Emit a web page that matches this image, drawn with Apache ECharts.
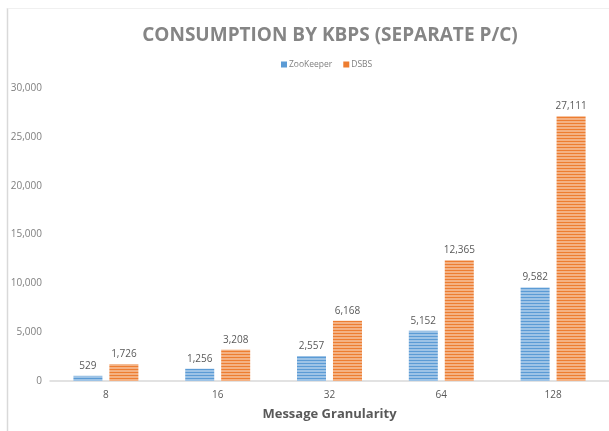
<!DOCTYPE html>
<html>
<head>
<meta charset="utf-8">
<script src="https://cdn.jsdelivr.net/npm/echarts@6/dist/echarts.min.js"></script>
<style>html,body{margin:0;padding:0;background:#fff}#c{width:609px;height:431px}</style>
</head>
<body>
<div id="c"></div>
<script>
const categories = ['8', '16', '32', '64', '128'];
const zooKeeper = [529, 1256, 2557, 5152, 9582];
const dsbs = [1726, 3208, 6168, 12365, 27111];
const seriesNames = ['ZooKeeper', 'DSBS'];
const yTicks = [0, 5000, 10000, 15000, 20000, 25000, 30000];

function stripes(dark, light) {
  const c = document.createElement('canvas');
  c.width = 4; c.height = 3;
  const g = c.getContext('2d');
  g.fillStyle = light; g.fillRect(0, 0, 4, 3);
  g.fillStyle = dark; g.fillRect(0, 0, 4, 1);
  return c;
}
const bluePat = stripes('#5B9BD5', '#9DC3E6');
const orangePat = stripes('#ED7D31', '#F4B183');

const chart = echarts.init(document.getElementById('c'), null, {renderer: 'canvas'});
const fmt = v => v.toLocaleString('en-US');
chart.setOption({
  animation: false,
  backgroundColor: '#fff',
  title: {
    text: 'CONSUMPTION BY KBPS (SEPARATE P/C)',
    left: 325, top: 21, textAlign: 'center',
    textStyle: {fontFamily: 'Open Sans', fontWeight: 'bold', fontSize: 19, color: '#858585'}
  },
  legend: {
    top: 55, left: 276,
    itemWidth: 6, itemHeight: 6, itemGap: 11,
    textStyle: {fontFamily: 'Open Sans', fontSize: 8.5, color: '#7f7f7f', padding: [0, 0, 0, -3]},
    data: [
      {name: seriesNames[0], icon: 'rect', itemStyle: {color: '#5B9BD5'}},
      {name: seriesNames[1], icon: 'rect', itemStyle: {color: '#ED7D31'}}
    ]
  },
  graphic: [
    {type: 'line', shape: {x1: 7.5, y1: 8, x2: 7.5, y2: 431}, style: {stroke: '#d9d9d9', lineWidth: 1.5}, silent: true},
    {type: 'line', shape: {x1: 7.5, y1: 8.5, x2: 609, y2: 8.5}, style: {stroke: '#f0f0f0', lineWidth: 1}, silent: true}
  ],
  grid: {left: 50, width: 563, top: 88, bottom: 50, containLabel: false},
  xAxis: {
    type: 'category', data: categories,
    name: 'Message Granularity', nameLocation: 'middle', nameGap: 27,
    nameTextStyle: {fontFamily: 'Open Sans', fontWeight: 'bold', fontSize: 13, color: '#595959'},
    axisLine: {lineStyle: {color: '#d9d9d9', width: 1.5}},
    axisTick: {show: false},
    axisLabel: {fontFamily: 'Open Sans', fontSize: 10, color: '#595959', margin: 9}
  },
  yAxis: {
    type: 'value', min: yTicks[0], max: yTicks[yTicks.length - 1], interval: 5000,
    axisLine: {show: false}, axisTick: {show: false}, splitLine: {show: false},
    axisLabel: {fontFamily: 'Open Sans', fontSize: 10, color: '#7f7f7f', margin: 8, formatter: fmt}
  },
  series: [
    {name: seriesNames[0], type: 'bar', data: zooKeeper, barWidth: 29, barGap: '24%',
     itemStyle: {color: {image: bluePat, repeat: 'repeat'}},
     label: {show: true, position: 'top', distance: 5, fontFamily: 'Open Sans', fontSize: 10, color: '#595959', formatter: p => fmt(p.value)}},
    {name: seriesNames[1], type: 'bar', data: dsbs, barWidth: 29,
     itemStyle: {color: {image: orangePat, repeat: 'repeat'}},
     label: {show: true, position: 'top', distance: 5, fontFamily: 'Open Sans', fontSize: 10, color: '#595959', formatter: p => fmt(p.value)}}
  ]
});
</script>
</body>
</html>
